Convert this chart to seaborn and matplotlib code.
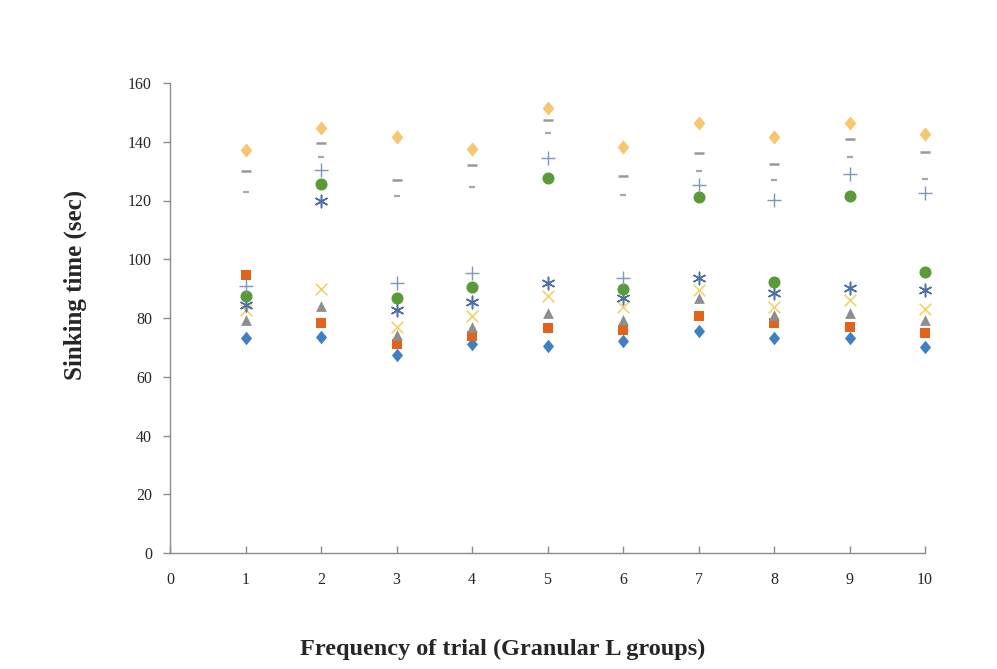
import numpy as np
import pandas as pd
import seaborn as sns
import matplotlib
matplotlib.use("Agg")
import matplotlib.pyplot as plt
from matplotlib.path import Path

trials = [1, 2, 3, 4, 5, 6, 7, 8, 9, 10]

s_diamond = [73.1, 73.4, 67.4, 71.1, 70.5, 72.3, 75.6, 73.1, 73.1, 70.2]
s_square = [94.6, 78.4, 71.0, 73.9, 76.5, 75.9, 80.8, 78.2, 77.0, 74.8]
s_triangle = [79.3, 84.1, 74.2, 77.0, 81.6, 79.3, 86.7, 81.0, 81.8, 79.3]
s_cross = [82.7, 89.8, 77.0, 80.7, 87.5, 83.6, 89.5, 83.9, 86.1, 83.0]
s_star = [84.4, 119.9, 82.7, 85.6, 91.8, 86.7, 93.5, 88.4, 90.1, 89.5]
s_circle = [87.5, 125.6, 86.9, 90.4, 127.5, 89.8, 121.1, 92.4, 121.7, 95.8]
s_plus = [91.0, 130.4, 92.0, 95.2, 134.4, 93.5, 125.3, 120.2, 129.0, 122.5]
s_shortdash = [122.8, 134.7, 121.5, 124.7, 142.9, 121.9, 130.1, 127.0, 134.7, 127.3]
s_longdash = [130.1, 139.7, 127.0, 132.0, 147.4, 128.3, 136.3, 132.3, 140.9, 136.6]
s_peach = [137.2, 144.6, 141.5, 137.5, 151.6, 138.1, 146.3, 141.7, 146.3, 142.6]

tall_diamond = Path([(0, 1), (0.82, 0), (0, -1), (-0.82, 0), (0, 1)],
                    [Path.MOVETO, Path.LINETO, Path.LINETO, Path.LINETO, Path.CLOSEPOLY])

series = [
    ("diamond", s_diamond, tall_diamond, "#3F7FC4", 95, 0),
    ("square", s_square, "s", "#E2631C", 60, 0),
    ("triangle", s_triangle, "^", "#8E8E8E", 60, 0),
    ("cross", s_cross, "x", "#F2D16B", 70, 1.2),
    ("star", s_star, (6, 2, 0), "#4F6FA8", 80, 1.1),
    ("circle", s_circle, "o", "#5A9A38", 75, 0),
    ("plus", s_plus, "+", "#7F97BA", 110, 1.0),
    ("shortdash", s_shortdash, "_", "#A8A8A8", 25, 1.6),
    ("longdash", s_longdash, "_", "#999999", 60, 1.8),
    ("peach", s_peach, tall_diamond, "#F7C66E", 105, 0),
]

sns.set_style("white")
plt.rcParams["font.family"] = ["Liberation Serif", "DejaVu Serif"]

fig = plt.figure(figsize=(9.97, 6.69), dpi=100)
ax = fig.add_axes([170 / 997, 1 - 553 / 669, (925 - 170) / 997, (553 - 83) / 669])

for name, vals, mk, col, sz, lw in series:
    df = pd.DataFrame({"trial": trials, "value": vals})
    line_like = isinstance(mk, str) and mk in ("x", "+", "_") or isinstance(mk, tuple)
    sns.scatterplot(data=df, x="trial", y="value", marker=mk, color=col,
                    s=sz, linewidth=(lw if line_like else 0), ax=ax,
                    legend=False, zorder=3, clip_on=False)

ax.set_xlim(0, 10)
ax.set_ylim(0, 160)
ax.set_xticks(range(0, 11))
ax.set_yticks(range(0, 161, 20))
for side in ("top", "right"):
    ax.spines[side].set_visible(False)
for side in ("left", "bottom"):
    ax.spines[side].set_color("#8C8C8C")
    ax.spines[side].set_linewidth(1.0)
ax.tick_params(axis="x", bottom=True, direction="in", length=5, width=1,
               color="#8C8C8C", labelsize=11.5, pad=14)
ax.tick_params(axis="y", left=True, direction="out", length=5, width=1,
               color="#8C8C8C", labelsize=11.5, pad=8)
ax.set_xlabel("")
ax.set_ylabel("")

fig.text(503 / 997, 1 - 649 / 669, "Frequency of trial (Granular L groups)",
         ha="center", va="center", fontsize=17.5, fontweight="bold")
fig.text(75 / 997, 1 - 285 / 669, "Sinking time (sec)", ha="center", va="center",
         rotation=90, fontsize=18, fontweight="bold")

fig.savefig("out.png", dpi=100)
